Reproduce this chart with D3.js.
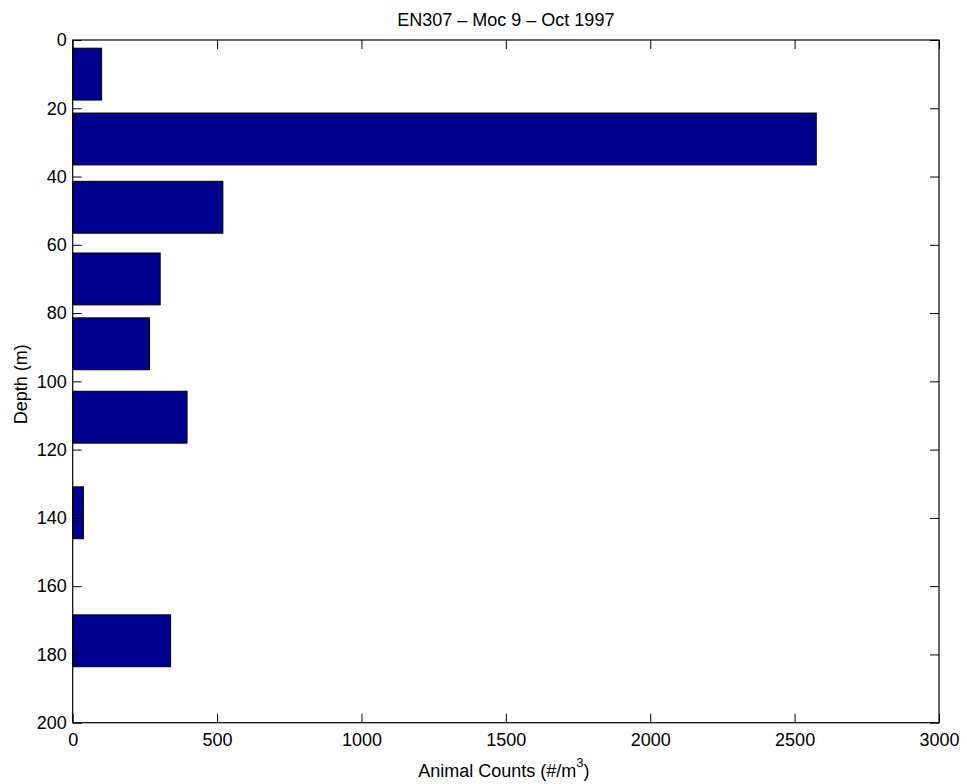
<!DOCTYPE html>
<html><head><meta charset="utf-8">
<script src="https://cdn.jsdelivr.net/npm/d3@7"></script>
<style>
body{margin:0;background:#fff;}
text{font-family:"Liberation Sans",Arial,Helvetica,sans-serif;fill:#000;}
</style></head>
<body>
<svg id="chart" width="967" height="784"></svg>
<script>
const depths = [10, 29, 49, 70, 89, 110.5, 138.5, 176];
const counts = [100, 2575, 520, 303, 266, 396, 37, 339];
const xTicks = [0, 500, 1000, 1500, 2000, 2500, 3000];
const yTicks = [0, 20, 40, 60, 80, 100, 120, 140, 160, 180, 200];
const barThickness = 15.2;
const titleText = "EN307 \u2013 Moc 9 \u2013 Oct 1997";

const L = 72.7, R = 939, T = 40, B = 722.7;
const svg = d3.select("#chart");
const x = d3.scaleLinear().domain([0, 3000]).range([L, R]);
const y = d3.scaleLinear().domain([0, 200]).range([T, B]);
const fs = 18;

svg.append("g").selectAll("rect").data(depths).enter().append("rect")
  .attr("x", x(0))
  .attr("y", (d) => y(d - barThickness / 2))
  .attr("width", (d, i) => x(counts[i]) - x(0))
  .attr("height", (d) => y(d + barThickness / 2) - y(d - barThickness / 2))
  .attr("fill", "#00008F").attr("stroke", "#000").attr("stroke-width", 1);

const tl = 9;
// bottom axis
const xb = d3.axisBottom(x).tickValues(xTicks).tickSize(-tl).tickPadding(11).tickFormat(d3.format("d"));
const gx = svg.append("g").attr("transform", `translate(0,${B})`).call(xb);
gx.select(".domain").remove();
gx.selectAll("text").attr("font-size", fs).attr("font-family", "Liberation Sans, Arial, sans-serif");
const xt = d3.axisTop(x).tickValues(xTicks).tickSize(-tl).tickFormat("");
const gxt = svg.append("g").attr("transform", `translate(0,${T})`).call(xt);
gxt.select(".domain").remove();
// left axis
const yl = d3.axisLeft(y).tickValues(yTicks).tickSize(-tl).tickPadding(6).tickFormat(d3.format("d"));
const gy = svg.append("g").attr("transform", `translate(${L},0)`).call(yl);
gy.select(".domain").remove();
gy.selectAll("text").attr("font-size", fs).attr("font-family", "Liberation Sans, Arial, sans-serif");
const yr = d3.axisRight(y).tickValues(yTicks).tickSize(-tl).tickFormat("");
const gyr = svg.append("g").attr("transform", `translate(${R},0)`).call(yr);
gyr.select(".domain").remove();
svg.selectAll(".tick line").attr("stroke", "#000");

svg.append("rect").attr("x", L).attr("y", T).attr("width", R - L).attr("height", B - T)
  .attr("fill", "none").attr("stroke", "#000").attr("stroke-width", 1.2);

svg.append("text").attr("x", (L + R) / 2).attr("y", 26).attr("text-anchor", "middle")
  .attr("font-size", fs).text(titleText);

const xl = svg.append("text").attr("x", (L + R) / 2 - 2).attr("y", 777).attr("text-anchor", "middle").attr("font-size", fs);
xl.append("tspan").text("Animal Counts (#/m");
xl.append("tspan").attr("dy", -10).attr("font-size", 13).text("3");
xl.append("tspan").attr("dy", 10).text(")");

svg.append("text").attr("transform", `translate(27,${(T + B) / 2 + 3}) rotate(-90)`)
  .attr("text-anchor", "middle").attr("font-size", fs).text("Depth (m)");
</script>
</body></html>
